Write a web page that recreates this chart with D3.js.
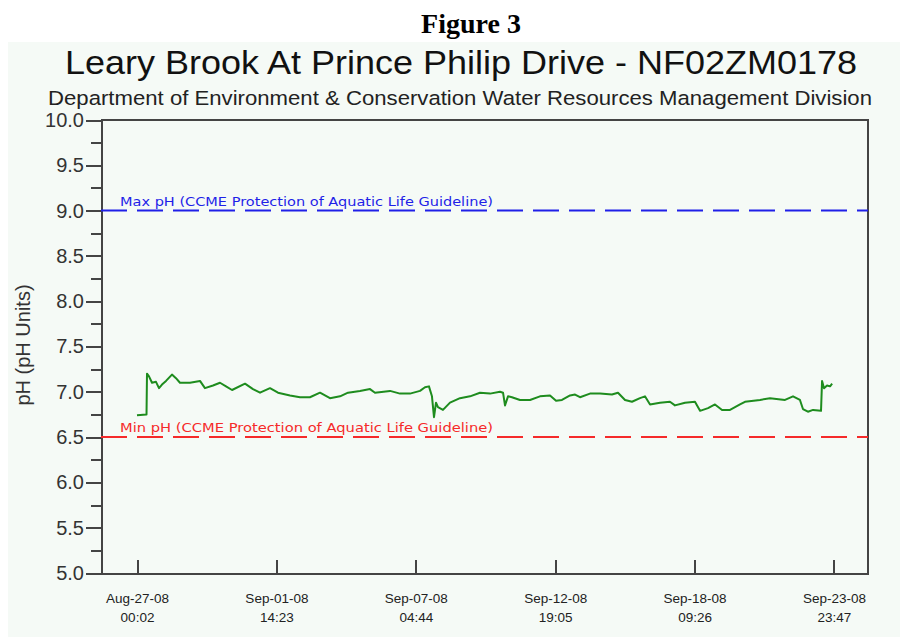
<!DOCTYPE html>
<meta charset="utf-8">
<style>
body { margin: 0; background: #fff; }
svg { display: block; }
.axis path, .axis line { stroke: #444; stroke-width: 2; shape-rendering: crispEdges; }
.axis text { fill: #333; }
</style>
<body>
<script src="https://cdn.jsdelivr.net/npm/d3@7"></script>
<script>
// readings taken off the chart (time, pH)
var times = [
  "2008-08-27 00:02", "2008-08-27 09:12", "2008-08-27 09:40", "2008-08-27 11:36", "2008-08-27 14:30",
  "2008-08-27 18:20", "2008-08-27 21:14", "2008-08-28 00:08", "2008-08-28 04:00", "2008-08-28 09:44",
  "2008-08-28 13:36", "2008-08-28 17:26", "2008-08-29 03:06", "2008-08-29 12:44", "2008-08-29 17:32",
  "2008-08-30 01:18", "2008-08-30 08:02", "2008-08-30 13:50", "2008-08-30 19:38", "2008-08-31 08:08",
  "2008-08-31 15:50", "2008-08-31 22:38", "2008-09-01 08:14", "2008-09-01 15:56", "2008-09-02 03:32",
  "2008-09-02 13:08", "2008-09-02 22:44", "2008-09-03 08:26", "2008-09-03 18:02", "2008-09-04 03:44",
  "2008-09-04 11:26", "2008-09-04 22:56", "2008-09-05 08:38", "2008-09-05 13:26", "2008-09-06 03:56",
  "2008-09-06 13:32", "2008-09-06 23:08", "2008-09-07 08:50", "2008-09-07 13:38", "2008-09-07 17:26",
  "2008-09-07 20:20", "2008-09-07 22:18", "2008-09-08 00:14", "2008-09-08 02:08", "2008-09-08 06:56",
  "2008-09-08 13:44", "2008-09-08 23:20", "2008-09-09 09:02", "2008-09-09 18:38", "2008-09-10 04:20",
  "2008-09-10 13:56", "2008-09-10 16:50", "2008-09-10 18:44", "2008-09-10 21:38", "2008-09-11 01:26",
  "2008-09-11 09:12", "2008-09-11 18:50", "2008-09-12 04:26", "2008-09-12 14:08", "2008-09-12 19:56",
  "2008-09-13 01:38", "2008-09-13 09:26", "2008-09-13 14:14", "2008-09-13 19:02", "2008-09-14 04:38",
  "2008-09-14 14:20", "2008-09-15 01:50", "2008-09-15 07:38", "2008-09-15 14:26", "2008-09-15 21:08",
  "2008-09-16 04:50", "2008-09-16 09:38", "2008-09-16 14:32", "2008-09-17 00:08", "2008-09-17 09:44",
  "2008-09-17 14:32", "2008-09-18 00:14", "2008-09-18 09:50", "2008-09-18 14:44", "2008-09-18 22:26",
  "2008-09-19 05:08", "2008-09-19 11:56", "2008-09-19 19:38", "2008-09-20 05:14", "2008-09-20 10:02",
  "2008-09-21 00:32", "2008-09-21 10:08", "2008-09-22 00:38", "2008-09-22 08:20", "2008-09-22 15:02",
  "2008-09-22 17:56", "2008-09-22 22:44", "2008-09-23 03:38", "2008-09-23 11:20", "2008-09-23 12:20",
  "2008-09-23 14:14", "2008-09-23 17:08", "2008-09-23 20:02", "2008-09-23 22:02"
];
var phValues = [
  6.74, 6.75, 7.20, 7.17, 7.10,
  7.11, 7.04, 7.08, 7.12, 7.19,
  7.15, 7.10, 7.10, 7.12, 7.04,
  7.07, 7.10, 7.06, 7.02, 7.09,
  7.03, 6.99, 7.04, 6.99, 6.96,
  6.94, 6.94, 6.99, 6.93, 6.95,
  6.99, 7.01, 7.03, 6.99, 7.01,
  6.98, 6.98, 7.01, 7.05, 7.06,
  6.95, 6.72, 6.88, 6.83, 6.80,
  6.88, 6.93, 6.95, 6.99, 6.98,
  7.00, 6.99, 6.85, 6.95, 6.94,
  6.91, 6.91, 6.95, 6.96, 6.90,
  6.91, 6.96, 6.97, 6.94, 6.98,
  6.98, 6.97, 6.99, 6.91, 6.89,
  6.93, 6.95, 6.86, 6.88, 6.89,
  6.85, 6.88, 6.89, 6.79, 6.82,
  6.86, 6.80, 6.80, 6.86, 6.89,
  6.91, 6.93, 6.91, 6.95, 6.91,
  6.81, 6.78, 6.80, 6.79, 7.12,
  7.04, 7.07, 7.06, 7.09
];
var tickTimes = ["2008-08-27 00:02", "2008-09-01 14:23", "2008-09-07 04:44",
                 "2008-09-12 19:05", "2008-09-18 09:26", "2008-09-23 23:47"];
var xDomain = ["2008-08-25 13:20", "2008-09-25 08:37"];
var yTicks = [5.0, 5.5, 6.0, 6.5, 7.0, 7.5, 8.0, 8.5, 9.0, 9.5, 10.0];
var guidelines = [
  {value: 9.0, label: "Max pH (CCME Protection of Aquatic Life Guideline)", color: "#1f1fe8"},
  {value: 6.5, label: "Min pH (CCME Protection of Aquatic Life Guideline)", color: "#f52a2a"}
];

var W = 900, H = 637;
var margin = {top: 120, right: 32, bottom: 64, left: 101},
    width = W - margin.left - margin.right,
    height = H - margin.top - margin.bottom;

var parseTime = d3.timeParse("%Y-%m-%d %H:%M");
var fmtDate = d3.timeFormat("%b-%d-%y"),
    fmtTime = d3.timeFormat("%H:%M");

var data = times.map(function(t, i) { return {date: parseTime(t), ph: phValues[i]}; });

var x = d3.scaleTime().domain(xDomain.map(parseTime)).range([0, width]);
var y = d3.scaleLinear().domain([5, 10]).range([height, 0]);

var svg = d3.select("body").append("svg")
  .attr("width", W)
  .attr("height", H);

// light panel behind the chart
svg.append("rect")
  .attr("x", 8).attr("y", 42)
  .attr("width", W - 8).attr("height", H - 42)
  .attr("fill", "#f5faf6");

svg.append("text")
  .attr("x", 471).attr("y", 33)
  .attr("text-anchor", "middle")
  .style("font", "bold 28px 'Liberation Serif', 'Times New Roman', serif")
  .text("Figure 3");

svg.append("text")
  .attr("x", 461).attr("y", 74)
  .attr("text-anchor", "middle")
  .attr("textLength", 792).attr("lengthAdjust", "spacingAndGlyphs")
  .style("font", "34px 'Liberation Sans', Arial, sans-serif")
  .style("fill", "#111")
  .text("Leary Brook At Prince Philip Drive - NF02ZM0178");

svg.append("text")
  .attr("x", 460).attr("y", 105)
  .attr("text-anchor", "middle")
  .attr("textLength", 824).attr("lengthAdjust", "spacingAndGlyphs")
  .style("font", "20.5px 'Liberation Sans', Arial, sans-serif")
  .style("fill", "#222")
  .text("Department of Environment & Conservation Water Resources Management Division");

var g = svg.append("g")
  .attr("transform", "translate(" + margin.left + "," + margin.top + ")");

// minor y ticks
g.append("g")
  .attr("class", "axis")
  .call(d3.axisLeft(y).tickValues(d3.range(5.25, 10, 0.5)).tickSize(10).tickFormat(""))
  .select(".domain").remove();

var yAxis = g.append("g")
  .attr("class", "axis")
  .call(d3.axisLeft(y).tickValues(yTicks).tickSize(15).tickPadding(2).tickFormat(d3.format(".1f")));
yAxis.selectAll("text")
  .style("font", "20px 'Liberation Sans', Arial, sans-serif");

var xAxis = g.append("g")
  .attr("class", "axis")
  .attr("transform", "translate(0," + height + ")")
  .call(d3.axisBottom(x).tickValues(tickTimes.map(parseTime)).tickSizeInner(-13).tickSizeOuter(0).tickFormat(""));
xAxis.selectAll(".tick").append("text")
  .attr("text-anchor", "middle")
  .style("font", "13.5px 'Liberation Sans', Arial, sans-serif")
  .style("fill", "#222")
  .each(function(d) {
    var t = d3.select(this);
    t.append("tspan").attr("x", 0).attr("y", 30).text(fmtDate(d));
    t.append("tspan").attr("x", 0).attr("y", 49).text(fmtTime(d));
  });

// frame top and right
g.append("path")
  .attr("d", "M0,0H" + width + "V" + height)
  .attr("fill", "none")
  .attr("stroke", "#444")
  .attr("stroke-width", 2)
  .style("shape-rendering", "crispEdges");

// guideline dashes and labels
guidelines.forEach(function(gl) {
  g.append("line")
    .attr("x1", 0).attr("x2", width)
    .attr("y1", y(gl.value)).attr("y2", y(gl.value))
    .attr("stroke", gl.color)
    .attr("stroke-width", 2)
    .attr("stroke-dasharray", "26,10");
  g.append("text")
    .attr("x", 19).attr("y", y(gl.value) - 5)
    .attr("textLength", 373).attr("lengthAdjust", "spacingAndGlyphs")
    .style("font", "12px 'DejaVu Sans', Verdana, sans-serif")
    .style("fill", gl.color)
    .text(gl.label);
});

var line = d3.line()
  .x(function(d) { return x(d.date); })
  .y(function(d) { return y(d.ph); });

g.append("path")
  .datum(data)
  .attr("d", line)
  .attr("fill", "none")
  .attr("stroke", "#1e8c1e")
  .attr("stroke-width", 2)
  .attr("stroke-linejoin", "round");

svg.append("text")
  .attr("transform", "translate(30,345) rotate(-90)")
  .attr("text-anchor", "middle")
  .style("font", "20px 'Liberation Sans', Arial, sans-serif")
  .style("fill", "#333")
  .text("pH (pH Units)");
</script>
</body>
